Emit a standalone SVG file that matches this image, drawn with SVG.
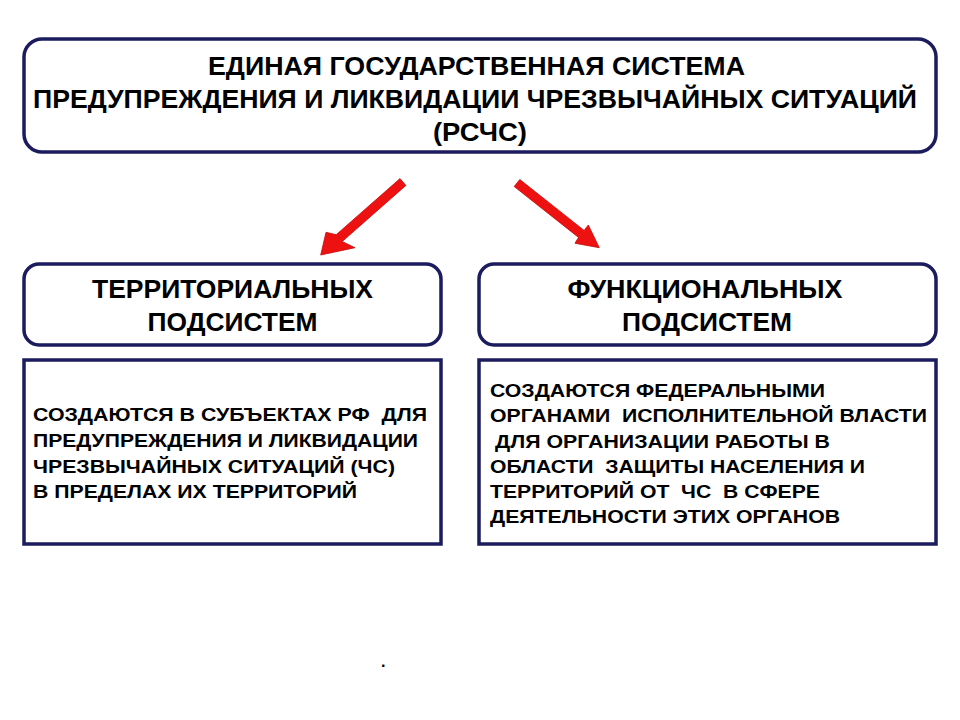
<svg xmlns="http://www.w3.org/2000/svg" width="960" height="720" viewBox="0 0 960 720">
<style>
.box{fill:#ffffff;stroke:#1b1b5e;stroke-width:3.5}
.t{font-family:"Liberation Sans",Arial,sans-serif;font-weight:bold;fill:#000000;white-space:pre}
.h{font-size:25px;text-anchor:middle}
.s{font-size:25px;text-anchor:middle}
.b{font-size:18px}
.arr{fill:#ee1111;stroke:#c40a0a;stroke-width:0.8;stroke-linejoin:round}
</style>
<rect width="960" height="720" fill="#ffffff"/>
<g id="rschs">
<rect class="box" x="24" y="39" width="912" height="113" rx="18" ry="18"/>
<text class="t h" x="476.5" y="75" textLength="537" lengthAdjust="spacingAndGlyphs">ЕДИНАЯ ГОСУДАРСТВЕННАЯ СИСТЕМА</text>
<text class="t h" x="475" y="108" textLength="884" lengthAdjust="spacingAndGlyphs">ПРЕДУПРЕЖДЕНИЯ И ЛИКВИДАЦИИ ЧРЕЗВЫЧАЙНЫХ СИТУАЦИЙ</text>
<text class="t h" x="480" y="141" textLength="94" lengthAdjust="spacingAndGlyphs">(РСЧС)</text>
</g>
<g id="connectors">
<polygon class="arr" points="400,178.6 405.9,185.4 342.2,241.5 355,247.7 320.7,255 326,232.3 336.2,234.7"/>
<polygon class="arr" points="519.8,179.5 584.1,230.4 588.3,225 599.3,247.7 575,243.3 578.5,237.4 514.2,186.5"/>
</g>
<g id="territorial">
<rect class="box" x="24" y="264" width="417" height="81" rx="15" ry="15"/>
<text class="t s" x="232.5" y="298" textLength="281" lengthAdjust="spacingAndGlyphs">ТЕРРИТОРИАЛЬНЫХ</text>
<text class="t s" x="232.5" y="331" textLength="170" lengthAdjust="spacingAndGlyphs">ПОДСИСТЕМ</text>
</g>
<g id="functional">
<rect class="box" x="479" y="264" width="457" height="81" rx="15" ry="15"/>
<text class="t s" x="705" y="298" textLength="275" lengthAdjust="spacingAndGlyphs">ФУНКЦИОНАЛЬНЫХ</text>
<text class="t s" x="707" y="331" textLength="170" lengthAdjust="spacingAndGlyphs">ПОДСИСТЕМ</text>
</g>
<g id="territorial-desc">
<rect class="box" x="24" y="360" width="417" height="184"/>
<text class="t b" x="33" y="421" textLength="394" lengthAdjust="spacingAndGlyphs">СОЗДАЮТСЯ В СУБЪЕКТАХ РФ  ДЛЯ</text>
<text class="t b" x="33" y="447" textLength="385" lengthAdjust="spacingAndGlyphs">ПРЕДУПРЕЖДЕНИЯ И ЛИКВИДАЦИИ</text>
<text class="t b" x="33" y="473" textLength="362" lengthAdjust="spacingAndGlyphs">ЧРЕЗВЫЧАЙНЫХ СИТУАЦИЙ (ЧС)</text>
<text class="t b" x="33" y="498" textLength="324" lengthAdjust="spacingAndGlyphs">В ПРЕДЕЛАХ ИХ ТЕРРИТОРИЙ</text>
</g>
<g id="functional-desc">
<rect class="box" x="479" y="360" width="457" height="184"/>
<text class="t b" x="490" y="397" textLength="335" lengthAdjust="spacingAndGlyphs">СОЗДАЮТСЯ ФЕДЕРАЛЬНЫМИ</text>
<text class="t b" x="490" y="422" textLength="437" lengthAdjust="spacingAndGlyphs">ОРГАНАМИ  ИСПОЛНИТЕЛЬНОЙ ВЛАСТИ</text>
<text class="t b" x="495" y="448" textLength="335" lengthAdjust="spacingAndGlyphs">ДЛЯ ОРГАНИЗАЦИИ РАБОТЫ В</text>
<text class="t b" x="490" y="473" textLength="375" lengthAdjust="spacingAndGlyphs">ОБЛАСТИ  ЗАЩИТЫ НАСЕЛЕНИЯ И</text>
<text class="t b" x="490" y="498" textLength="330" lengthAdjust="spacingAndGlyphs">ТЕРРИТОРИЙ ОТ  ЧС  В СФЕРЕ</text>
<text class="t b" x="490" y="523" textLength="350" lengthAdjust="spacingAndGlyphs">ДЕЯТЕЛЬНОСТИ ЭТИХ ОРГАНОВ</text>
</g>
<text class="t" x="381" y="667" font-size="16" fill="#1b1b5e">.</text>
</svg>
